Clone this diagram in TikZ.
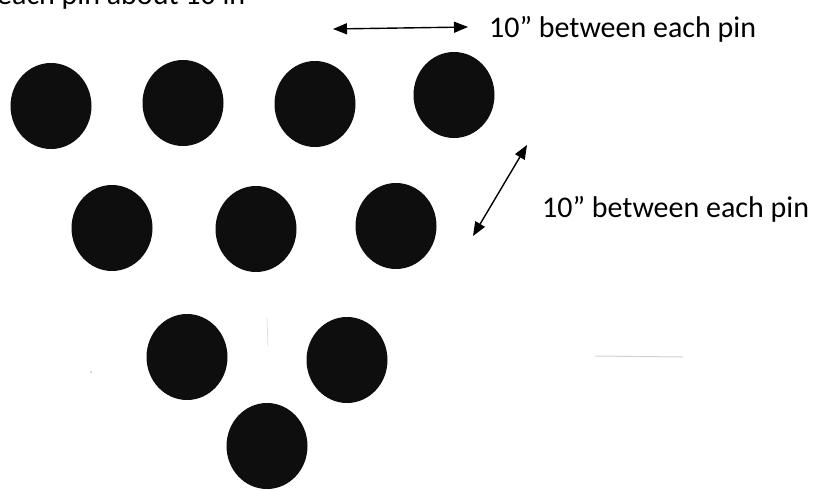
\documentclass[tikz,border=0pt]{standalone}
\usepackage{fontspec}
\setmainfont{Carlito}
\usetikzlibrary{shapes.geometric,arrows.meta}

\tikzset{
  pinball/.style={ellipse, fill={rgb,255:red,14;green,14;blue,14}, draw=none,
    minimum width=81pt, minimum height=86pt, inner sep=0pt},
  dimline/.style={line width=1.4pt, {Triangle[length=14pt,width=11pt]}-{Triangle[length=14pt,width=11pt]}},
  note/.style={anchor=base west, inner sep=0pt, font=\fontsize{30}{36}\selectfont}
}

\begin{document}
\begin{tikzpicture}[x=1pt, y=-1pt]
  \useasboundingbox (0,0) rectangle (816,490);
  \fill[white] (0,0) rectangle (816,490);
  \clip (0,0) rectangle (816,490);

  % heading line, mostly cut off at the top edge
  \node[note] (head) at (-3,4) {each pin about 10 in};

  % first row
  \node[pinball] (p7)  at (51,106) {};
  \node[pinball] (p8)  at (183,103) {};
  \node[pinball] (p9)  at (315,104) {};
  \node[pinball] (p10) at (454,95) {};
  % second row
  \node[pinball] (p4) at (112,228) {};
  \node[pinball] (p5) at (256,229) {};
  \node[pinball] (p6) at (396,226) {};
  % third row
  \node[pinball] (p2) at (187,357) {};
  \node[pinball] (p3) at (347,360) {};
  % head pin
  \node[pinball] (p1) at (267,446) {};

  % spacing along a row
  \coordinate (h1) at (333,29);
  \coordinate (h2) at (468,27);
  \draw[dimline] (h1) -- (h2);
  \node[note] (hlabel) at (489,37) {10” between each pin};

  % spacing along a diagonal
  \coordinate (d1) at (473,236);
  \coordinate (d2) at (527,145);
  \draw[dimline] (d1) -- (d2);
  \node[note] (dlabel) at (542,217) {10” between each pin};

  % faint marks on the sheet
  \draw[gray!35, line width=1pt] (595,356) -- (683,357);
  \fill[gray!50] (91,372) circle (1pt);
  \draw[gray!25, line width=0.8pt] (267,318) -- (268,346);
\end{tikzpicture}
\end{document}
